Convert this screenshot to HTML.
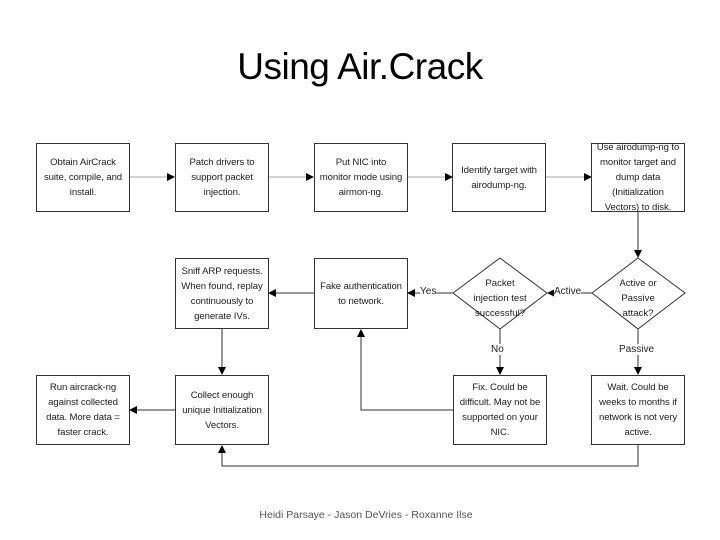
<!DOCTYPE html>
<html><head><style>
body{margin:0;width:720px;height:540px;background:#fff;position:relative;overflow:hidden;font-family:"Liberation Sans",sans-serif}
.t{position:absolute;left:0;width:720px;text-align:center;top:46px;font-size:37px;color:#000;letter-spacing:-0.5px}
.f{position:absolute;left:6px;width:720px;text-align:center;top:509px;font-size:10.5px;color:#555}
.b{position:absolute;border:1px solid #333;box-sizing:border-box;display:flex;align-items:center;justify-content:center;text-align:center;font-size:9.6px;line-height:15px;color:#222;width:94px;padding:0 4px;letter-spacing:-0.1px}
.r1{top:143px;height:69px}.r2{top:258px;height:71px}.r3{top:375px;height:70px}
.l{position:absolute;font-size:10px;color:#222;background:#fff}
</style></head><body>
<div class="t">Using Air.Crack</div>
<svg width="720" height="540" style="position:absolute;left:0;top:0">
<defs><marker id="a" markerWidth="8" markerHeight="8" refX="7" refY="4" orient="auto" markerUnits="userSpaceOnUse"><path d="M0,0L8,4L0,8z" fill="#000"/></marker></defs>
<g stroke="#777" stroke-width="1" fill="none">
<line x1="129" y1="177" x2="174" y2="177" marker-end="url(#a)" stroke="#aaa"/>
<line x1="268" y1="177" x2="313" y2="177" marker-end="url(#a)" stroke="#aaa"/>
<line x1="407" y1="177" x2="452" y2="177" marker-end="url(#a)" stroke="#aaa"/>
<line x1="546" y1="177" x2="591" y2="177" marker-end="url(#a)" stroke="#aaa"/>
<line x1="638" y1="212" x2="638" y2="257" marker-end="url(#a)" stroke="#333"/>
<line x1="592" y1="293" x2="548" y2="293" marker-end="url(#a)" stroke="#333"/>
<line x1="453" y1="293" x2="408" y2="293" marker-end="url(#a)" stroke="#333"/>
<line x1="314" y1="293" x2="269" y2="293" marker-end="url(#a)" stroke="#333"/>
<line x1="222" y1="329" x2="222" y2="374" marker-end="url(#a)" stroke="#333"/>
<line x1="500" y1="329" x2="500" y2="374" marker-end="url(#a)" stroke="#333"/>
<line x1="638" y1="329" x2="638" y2="374" marker-end="url(#a)" stroke="#333"/>
<line x1="175" y1="410" x2="130" y2="410" marker-end="url(#a)" stroke="#333"/>
<polyline points="453,410 361,410 361,330" marker-end="url(#a)" stroke="#333"/>
<polyline points="638,445 638,466 222,466 222,446" marker-end="url(#a)" stroke="#333"/>
<polygon points="500,258 547,293 500,329 453,293" stroke="#333" fill="#fff"/>
<polygon points="638,258 685,293 638,329 592,293" stroke="#333" fill="#fff"/>
</g>
<g font-family="Liberation Sans" font-size="9.6" fill="#222" text-anchor="middle">
<text x="500" y="286">Packet</text><text x="500" y="301">injection test</text><text x="500" y="316">successful?</text>
<text x="638" y="286">Active or</text><text x="638" y="301">Passive</text><text x="638" y="316">attack?</text>
</g>
</svg>
<div class="b r1" style="left:36px">Obtain AirCrack suite, compile, and install.</div>
<div class="b r1" style="left:175px">Patch drivers to support packet injection.</div>
<div class="b r1" style="left:314px">Put NIC into monitor mode using airmon-ng.</div>
<div class="b r1" style="left:452px">Identify target with airodump-ng.</div>
<div class="b r1" style="left:591px">Use airodump-ng to monitor target and dump data (Initialization Vectors) to disk.</div>
<div class="b r2" style="left:175px">Sniff ARP requests. When found, replay continuously to generate IVs.</div>
<div class="b r2" style="left:314px">Fake authentication to network.</div>
<div class="b r3" style="left:36px">Run aircrack-ng against collected data. More data = faster crack.</div>
<div class="b r3" style="left:175px">Collect enough unique Initialization Vectors.</div>
<div class="b r3" style="left:453px">Fix. Could be difficult. May not be supported on your NIC.</div>
<div class="b r3" style="left:591px">Wait. Could be weeks to months if network is not very active.</div>
<div class="l" style="left:420px;top:286px">Yes</div>
<div class="l" style="left:554px;top:286px">Active</div>
<div class="l" style="left:491px;top:344px">No</div>
<div class="l" style="left:619px;top:344px">Passive</div>
<div class="f">Heidi Parsaye - Jason DeVries - Roxanne Ilse</div>
</body></html>
